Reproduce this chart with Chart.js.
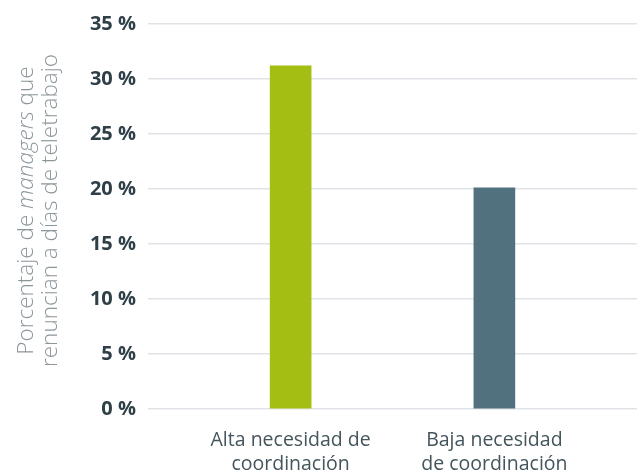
<!DOCTYPE html>
<html>
<head>
<meta charset="utf-8">
<script src="https://cdn.jsdelivr.net/npm/chart.js@4"></script>
<style>
  html, body { margin: 0; padding: 0; background: #fff; }
  #wrap { width: 638px; height: 471px; position: relative; }
</style>
</head>
<body>
<div id="wrap"><canvas id="chart"></canvas></div>
<script>
'use strict'

// data
var categories = [['Alta necesidad de', 'coordinación'], ['Baja necesidad', 'de coordinación']];
var values = [31.2, 20.1];
var barColors = ['#a4be13', '#52717f'];
var yTicks = [0, 5, 10, 15, 20, 25, 30, 35];
var titleLine1 = [['Porcentaje de ', false], ['managers', true], [' que', false]];
var titleLine2 = 'renuncian a días de teletrabajo';

var points = values.map(function (v, i) { return { x: i, y: v }; });

// y axis title with an italic word, drawn on the canvas
var axisTitle = {
    id: 'axisTitle',
    afterDraw: function (chart) {
        var ctx = chart.ctx;
        var cy = (chart.chartArea.top + chart.chartArea.bottom) / 2 - 6;
        ctx.save();
        ctx.fillStyle = '#8c979c';
        ctx.textBaseline = 'alphabetic';
        ctx.textAlign = 'left';
        var fontN = '300 22.5px "Open Sans"';
        var fontI = 'italic 300 22.5px "Open Sans"';

        // line 1
        var w = 0;
        titleLine1.forEach(function (p) {
            ctx.font = p[1] ? fontI : fontN;
            w += ctx.measureText(p[0]).width;
        });
        ctx.translate(33, cy);
        ctx.rotate(-Math.PI / 2);
        var x = -w / 2;
        titleLine1.forEach(function (p) {
            ctx.font = p[1] ? fontI : fontN;
            ctx.fillText(p[0], x, 0);
            x += ctx.measureText(p[0]).width;
        });
        // line 2
        ctx.font = fontN;
        ctx.textAlign = 'center';
        ctx.fillText(titleLine2, 0, 24);
        ctx.restore();
    }
};

new Chart(document.getElementById('chart'), {
    type: 'bar',
    data: {
        datasets: [{
            data: points,
            backgroundColor: barColors,
            barThickness: 41
        }]
    },
    options: {
        responsive: true,
        maintainAspectRatio: false,
        animation: false,
        layout: { padding: { top: 13, right: 1, left: 0, bottom: 0 } },
        plugins: {
            legend: { display: false },
            tooltip: { enabled: false }
        },
        scales: {
            x: {
                type: 'linear',
                offset: false,
                min: -0.7,
                max: 1.7,
                grid: { display: false },
                border: { display: false },
                afterBuildTicks: function (scale) {
                    scale.ticks = categories.map(function (c, i) { return { value: i }; });
                },
                afterFit: function (scale) { scale.height = 62; },
                ticks: {
                    padding: 12,
                    maxRotation: 0,
                    autoSkip: false,
                    color: '#44555c',
                    font: { family: '"Open Sans"', size: 19.5, lineHeight: 1.2 },
                    callback: function (v) { return categories[v]; }
                }
            },
            y: {
                min: 0,
                max: 35,
                afterBuildTicks: function (scale) {
                    scale.ticks = yTicks.map(function (v) { return { value: v }; });
                },
                afterFit: function (scale) { scale.width = 148; },
                grid: { color: '#dfe3e7', lineWidth: 1.5, drawTicks: false },
                border: { display: false },
                ticks: {
                    padding: 12,
                    color: '#2e3f47',
                    font: { family: '"Open Sans"', size: 20, weight: 'bold' },
                    callback: function (v) { return v + ' %'; }
                }
            }
        }
    },
    plugins: [axisTitle]
});
</script>
</body>
</html>
